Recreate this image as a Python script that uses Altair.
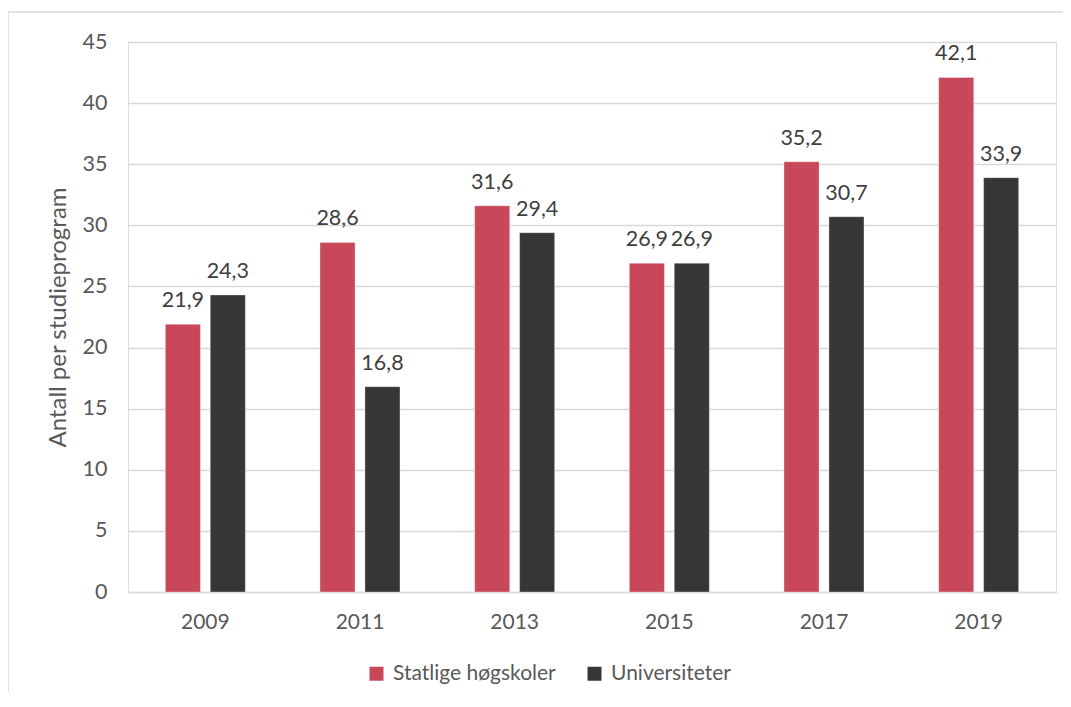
import altair as alt
import pandas as pd

years = ["2009", "2011", "2013", "2015", "2017", "2019"]
series = ["Statlige høgskoler", "Universiteter"]
statlige = [21.9, 28.6, 31.6, 26.9, 35.2, 42.1]
universiteter = [24.3, 16.8, 29.4, 26.9, 30.7, 33.9]
colors = ["#C8485A", "#363636"]

rows = []
for y, a, b in zip(years, statlige, universiteter):
    rows.append({"year": y, "series": series[0], "value": a})
    rows.append({"year": y, "series": series[1], "value": b})
df = pd.DataFrame(rows)
df["label"] = df["value"].map(lambda v: f"{v:.1f}".replace(".", ","))

FONT = "Lato"
W, H = 928, 550

x_enc = alt.X("year:N", sort=years, title=None,
              scale=alt.Scale(paddingInner=0.483, paddingOuter=0.2415),
              axis=alt.Axis(labelAngle=0, ticks=False, domainColor="#d9d9d9",
                            domainWidth=1.5, labelFontSize=21, labelColor="#595959",
                            labelPadding=19, labelFont=FONT))
xo_enc = alt.XOffset("series:N", sort=series,
                     scale=alt.Scale(paddingInner=0.22, paddingOuter=0))
y_enc = alt.Y("value:Q", title="Antall per studieprogram",
              scale=alt.Scale(domain=[0, 45], nice=False),
              axis=alt.Axis(values=list(range(0, 50, 5)), ticks=False, domain=False,
                            gridColor="#d9d9d9", gridWidth=1.5, labelFontSize=21.5,
                            labelColor="#595959", labelPadding=21, labelFont=FONT,
                            titleFontSize=24, titleColor="#595959", titleFont=FONT,
                            titleFontWeight="normal", titlePadding=12))

base = alt.Chart(df)

bars = base.mark_bar(stroke="#ffffff", strokeOpacity=0.4, strokeWidth=0.8).encode(
    x=x_enc, xOffset=xo_enc, y=y_enc,
    color=alt.Color("series:N", sort=series,
                    scale=alt.Scale(domain=series, range=colors),
                    legend=alt.Legend(title=None, orient="none", direction="horizontal",
                                      legendX=238, legendY=621, symbolType="square",
                                      symbolSize=196, symbolStrokeWidth=0,
                                      labelFontSize=21, labelColor="#595959",
                                      labelFont=FONT, labelOffset=6, labelLimit=400,
                                      columnPadding=28)),
)

text = base.mark_text(baseline="alphabetic", dy=-17, fontSize=21.5, color="#404040",
                      font=FONT).encode(
    x=alt.X("year:N", sort=years), xOffset=alt.XOffset("series:N", sort=series),
    y="value:Q", text="label:N",
)

border = alt.Chart(pd.DataFrame({"a": [0]})).mark_rect(
    fillOpacity=0, stroke="#d9d9d9", strokeWidth=1.5
).encode(
    x=alt.value(-120), x2=alt.value(W + 300), y=alt.value(-30), y2=alt.value(H + 300)
)

chart = alt.layer(border, bars, text).properties(
    width=W, height=H,
    autosize=alt.AutoSizeParams(type="none"),
    padding={"left": 120, "top": 34, "right": 7, "bottom": 100},
).configure_view(stroke=None).configure(font=FONT)

chart.save("out.html", embed_options={"renderer": "svg", "actions": False})
